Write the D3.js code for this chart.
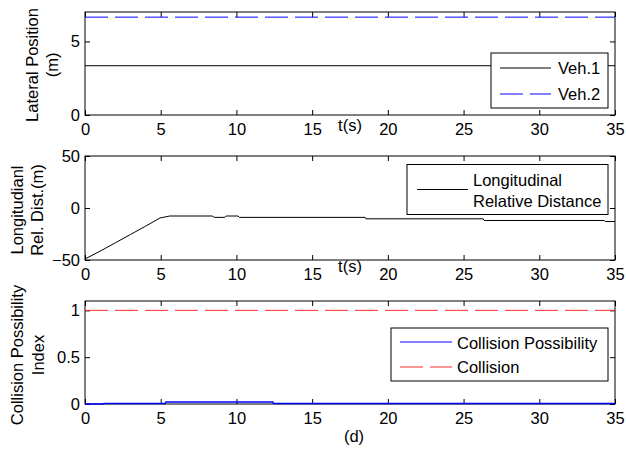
<!DOCTYPE html>
<html>
<head>
<meta charset="utf-8">
<script src="https://cdn.jsdelivr.net/npm/d3@7"></script>
<style>
  html, body { margin: 0; padding: 0; background: #fff; }
  svg { display: block; font-family: Arial, "Liberation Sans", sans-serif; }
  .axis path, .axis line { stroke: #000; }
  .axis text { fill: #000; font-size: 16.5px; font-family: Arial, "Liberation Sans", sans-serif; }
</style>
</head>
<body>
<svg id="chart" width="626" height="452"></svg>
<script>
// Time axis shared by the three panels
const timeTicks = [0, 5, 10, 15, 20, 25, 30, 35];

// Panel 1: lateral position of both vehicles
const latTime = [0, 35];
const veh1Lateral = [3.35, 3.35];
const veh2Lateral = [6.65, 6.65];
const latTicks = [0, 5];

// Panel 2: longitudinal relative distance
const longTime = [0, 1, 2, 3, 4, 4.95, 5.6, 8.4, 8.55, 9.2, 9.35, 10.1, 10.2, 18.5, 18.55, 26.3, 26.35, 34.3, 34.35, 35];
const longDist = [-49, -41.5, -33.5, -25.5, -17.5, -9.6, -7.7, -7.7, -9, -9, -7.7, -7.7, -9, -9, -10.4, -10.4, -12, -12, -13, -13];
const longTicks = [-50, 0, 50];

// Panel 3: collision possibility index and the collision threshold
const colTime = [0, 1.2, 1.25, 5.3, 5.35, 12.4, 12.45, 35];
const colIndex = [0, 0, 0.006, 0.006, 0.022, 0.022, 0.006, 0.006];
const thrTime = [0, 35];
const thrValue = [1, 1];
const colTicks = [0, 0.5, 1];

const FS = 16.5;
const svg = d3.select("#chart");
const left = 85, right = 615;
const x = d3.scaleLinear().domain([0, 35]).range([left, right]);

function panel(top, bottom, yDomain, yTicks, yFmt) {
  const y = d3.scaleLinear().domain(yDomain).range([bottom, top]);
  const g = svg.append("g");
  // inward ticks on all four sides, box style
  g.append("g").attr("class", "axis").attr("transform", `translate(0,${bottom})`)
    .call(d3.axisBottom(x).tickValues(timeTicks).tickSize(-5).tickPadding(8).tickFormat(d3.format("d")))
    .call(s => s.select(".domain").remove());
  g.append("g").attr("class", "axis").attr("transform", `translate(0,${top})`)
    .call(d3.axisTop(x).tickValues(timeTicks).tickSize(-5).tickFormat(""))
    .call(s => s.select(".domain").remove());
  g.append("g").attr("class", "axis").attr("transform", `translate(${left},0)`)
    .call(d3.axisLeft(y).tickValues(yTicks).tickSize(-5).tickPadding(5).tickFormat(yFmt))
    .call(s => s.select(".domain").remove());
  g.append("g").attr("class", "axis").attr("transform", `translate(${right},0)`)
    .call(d3.axisRight(y).tickValues(yTicks).tickSize(-5).tickFormat(""))
    .call(s => s.select(".domain").remove());
  g.append("rect").attr("x", left).attr("y", top).attr("width", right - left).attr("height", bottom - top)
    .attr("fill", "none").attr("stroke", "#000").attr("stroke-width", 1);
  return { g, y };
}

function series(p, ts, vs, color, dash, width) {
  const line = d3.line().x(d => x(d[0])).y(d => p.y(d[1]));
  p.g.append("path").datum(ts.map((t, i) => [t, vs[i]]))
    .attr("d", line).attr("fill", "none").attr("stroke", color).attr("stroke-width", width || 1)
    .attr("stroke-dasharray", dash || null);
}

function legend(p, box, items) {
  p.g.append("rect").attr("x", box.x).attr("y", box.y).attr("width", box.w).attr("height", box.h)
    .attr("fill", "#fff").attr("stroke", "#000").attr("stroke-width", 1);
  items.forEach(it => {
    p.g.append("line").attr("x1", box.lx1).attr("x2", box.lx2).attr("y1", it.ly).attr("y2", it.ly)
      .attr("stroke", it.color).attr("stroke-width", 1).attr("stroke-dasharray", it.dash || null);
    it.lines.forEach((t, k) => {
      p.g.append("text").attr("x", box.tx).attr("y", it.ty[k]).attr("dy", "0.35em")
        .attr("font-size", FS).attr("fill", "#000").text(t);
    });
  });
}

// two-line rotated axis title; cx is the baseline of the first line
function yLabel(cx, cy, lines, gap) {
  const t = svg.append("text").attr("transform", `translate(${cx},${cy}) rotate(-90)`)
    .attr("text-anchor", "middle").attr("font-size", FS).attr("fill", "#000");
  lines.forEach((s, i) => t.append("tspan").attr("x", 0).attr("y", i * gap).text(s));
}

function note(cx, cy, s) {
  svg.append("text").attr("x", cx).attr("y", cy).attr("text-anchor", "middle")
    .attr("font-size", FS).attr("fill", "#000").text(s);
}

const dash = "23,7";
const red = "#ff2a2a";

// ---- Panel 1 ----
const p1 = panel(12, 115, [0, 7], latTicks, d3.format("d"));
series(p1, latTime, veh1Lateral, "#000");
series(p1, latTime, veh2Lateral, "#0000ff", dash);
legend(p1, { x: 491, y: 53, w: 117, h: 55, lx1: 500, lx2: 551, tx: 558 }, [
  { lines: ["Veh.1"], ty: [68.5], ly: 68, color: "#000" },
  { lines: ["Veh.2"], ty: [94.5], ly: 94, color: "#0000ff", dash: dash }
]);
note(350, 131, "t(s)");
yLabel(38, 65, ["Lateral Position", "(m)"], 20);

// ---- Panel 2 ----
const p2 = panel(156, 260, [-50, 50], longTicks, d3.format("d"));
series(p2, longTime, longDist, "#000");
legend(p2, { x: 407, y: 164.5, w: 201, h: 50, lx1: 417, lx2: 468, tx: 473 }, [
  { lines: ["Longitudinal", "Relative Distance"], ty: [180.5, 201], ly: 189.5, color: "#000" }
]);
note(350, 271.5, "t(s)");
yLabel(23, 210, ["Longitudianl", "Rel. Dist.(m)"], 20);

// ---- Panel 3 ----
const p3 = panel(301, 404, [0, 1.1], colTicks, d => d === 0.5 ? "0.5" : d3.format("d")(d));
series(p3, thrTime, thrValue, red, dash);
series(p3, colTime, colIndex, "#0000ff", null, 1.5);
legend(p3, { x: 391, y: 328, w: 217, h: 53, lx1: 400, lx2: 452, tx: 457 }, [
  { lines: ["Collision Possibility"], ty: [343], ly: 342, color: "#0000ff" },
  { lines: ["Collision"], ty: [367.5], ly: 367, color: red, dash: dash }
]);
note(354, 442, "(d)");
yLabel(23, 355, ["Collision Possibility", "Index"], 21);
</script>
</body>
</html>
